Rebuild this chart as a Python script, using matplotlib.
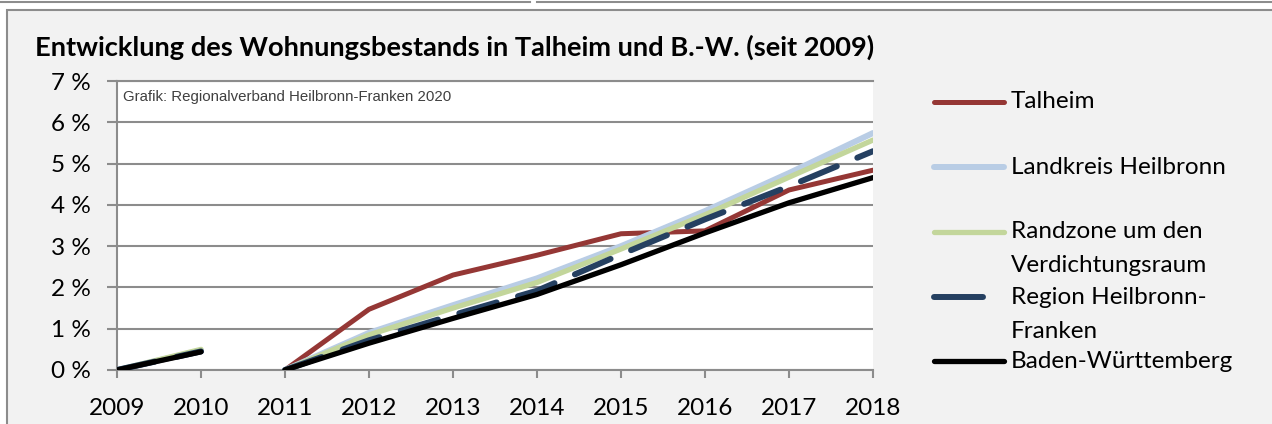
import numpy as np
import matplotlib
matplotlib.use("Agg")
import matplotlib.pyplot as plt
from matplotlib.lines import Line2D
from matplotlib.patches import Rectangle

# Data (Prozent, Basis 2009 bzw. 2011 neu)
years = [2009, 2010, 2011, 2012, 2013, 2014, 2015, 2016, 2017, 2018]
year_labels = [str(y) for y in years]
series_names = ["Talheim", "Landkreis Heilbronn", "Randzone um den\nVerdichtungsraum",
                "Region Heilbronn-\nFranken", "Baden-Württemberg"]
# x positions incl. break between 2010 and 2011
xs = [2009, 2010, 2010.5, 2011, 2012, 2013, 2014, 2015, 2016, 2017, 2018]
talheim = [0, 0.45, np.nan, 0, 1.47, 2.30, 2.78, 3.30, 3.37, 4.36, 4.84]
landkreis = [0, 0.47, np.nan, 0, 0.90, 1.57, 2.22, 3.00, 3.85, 4.77, 5.74]
randzone = [0, 0.50, np.nan, 0, 0.85, 1.50, 2.12, 2.93, 3.76, 4.67, 5.57]
region = [0, 0.45, np.nan, 0, 0.72, 1.33, 1.92, 2.80, 3.65, 4.45, 5.30]
bw = [0, 0.44, np.nan, 0, 0.65, 1.25, 1.83, 2.55, 3.32, 4.05, 4.66]
yticks = [0, 1, 2, 3, 4, 5, 6, 7]
ytick_labels = ["0 %", "1 %", "2 %", "3 %", "4 %", "5 %", "6 %", "7 %"]

colors = ["#953735", "#B9CDE5", "#C3D69B", "#254061", "#000000"]
widths = [3.6, 4.3, 3.8, 4.3, 3.8]

plt.rcParams["font.family"] = ["Lato", "DejaVu Sans"]
plt.rcParams["lines.scale_dashes"] = False

W, H = 1272, 424
fig = plt.figure(figsize=(W / 100, H / 100), dpi=100)
fig.patch.set_facecolor("white")

# outer frame
fig.add_artist(Rectangle((7 / W, -0.1), 1.2, 1 - 10 / H + 0.1, transform=fig.transFigure,
                         facecolor="#f2f2f2", edgecolor="#8c8c8c", lw=1.5, zorder=-5))
fig.add_artist(Line2D([0, 530 / W], [1 - 1.5 / H] * 2, transform=fig.transFigure, color="#8c8c8c", lw=1.5))
fig.add_artist(Line2D([537 / W, 1], [1 - 1.5 / H] * 2, transform=fig.transFigure, color="#8c8c8c", lw=1.5))

ax = fig.add_axes([117 / W, 1 - 370 / H, (873 - 117) / W, (370 - 81) / H])
ax.set_zorder(2)
ax.set_facecolor("white")

all_series = [talheim, landkreis, randzone, region, bw]
for i, s in enumerate(all_series):
    kw = dict(color=colors[i], lw=widths[i], solid_capstyle="round", solid_joinstyle="round", zorder=3 + i)
    if i == 3:
        kw.update(linestyle=(0, (28, 16)), dash_capstyle="round")
    ax.plot(xs, s, **kw)

ax.set_xlim(2009, 2018)
ax.set_ylim(0, 7)
ax.set_xticks(years)
ax.set_xticklabels(year_labels)
ax.set_yticks(yticks)
ax.set_yticklabels(ytick_labels)
ax.grid(axis="y", color="#8c8c8c", lw=1.5, zorder=1)
ax.set_axisbelow(True)
ax.spines["right"].set_visible(False)
for sp in ["left", "bottom", "top"]:
    ax.spines[sp].set_color("#8c8c8c")
    ax.spines[sp].set_linewidth(1.5)
ax.tick_params(axis="both", colors="#8c8c8c", width=1.5, labelcolor="black", labelsize=17.5)
ax.tick_params(axis="x", length=6, pad=14)
ax.tick_params(axis="y", length=7, pad=12)

ax.text(0.008, 0.945, "Grafik: Regionalverband Heilbronn-Franken 2020", transform=ax.transAxes,
        fontsize=10.8, family=["Liberation Sans"], color="#404040", va="center")

fig.text(35 / W, 1 - 47 / H, "Entwicklung des Wohnungsbestands in Talheim und B.-W. (seit 2009)",
         fontsize=19.6, fontweight="bold", va="center", ha="left")

# legend
leg_y = [102, 167, 232, 297, 361]
for i, name in enumerate(series_names):
    y = 1 - leg_y[i] / H
    x1 = 983 if i == 3 else 1004
    fig.add_artist(Line2D([934 / W, x1 / W], [y, y], transform=fig.transFigure, color=colors[i],
                          lw=widths[i], solid_capstyle="round"))
    for k, part in enumerate(name.split("\n")):
        fig.text(1011 / W, y - k * 34 / H, part, fontsize=17.5, va="center", ha="left")

fig.savefig("out.png", dpi=100, facecolor=fig.get_facecolor())
